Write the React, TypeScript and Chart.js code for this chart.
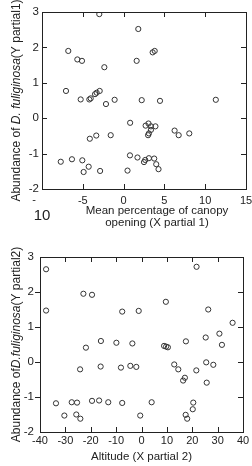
import React, { useEffect, useRef } from "react";
import { Chart, registerables } from "chart.js";
Chart.register(...registerables);

// ---- Data ----
const topX = [-2.98, 1.8, -6.78, -5.67, -5.1, -2.36, 1.6, 3.56, 3.81, -7.06, -5.26, -4.2, -4.03, -3.5, -3.3, -2.93, -2.16, -1.1, 2.22, 4.46, 11.3, 0.8, 2.7, 3.05, 3.35, 3.9, 3.35, 3.1, 3.0, 6.25, 6.75, 8.05, -4.14, -3.35, -1.58, -7.7, -6.33, -5.06, -4.28, -4.9, -2.88, 0.78, 0.48, 1.7, 2.5, 2.65, 3.1, 3.75, 4.0, 4.28];
const topY = [2.94, 2.52, 1.9, 1.66, 1.62, 1.44, 1.62, 1.86, 1.9, 0.77, 0.53, 0.53, 0.56, 0.68, 0.72, 0.77, 0.4, 0.52, 0.51, 0.49, 0.52, -0.13, -0.21, -0.15, -0.23, -0.23, -0.33, -0.43, -0.48, -0.35, -0.48, -0.43, -0.58, -0.49, -0.48, -1.23, -1.16, -1.19, -1.37, -1.52, -1.49, -1.05, -1.48, -1.11, -1.24, -1.18, -1.13, -1.14, -1.3, -1.44];

const bottomX = [-37.6, -37.6, -22.9, -19.5, -7.6, -1.1, 21.7, 9.6, 26.3, 35.9, -21.9, -16.0, -9.9, -3.6, 8.9, 9.7, 10.4, 17.5, 25.3, 30.7, 31.7, -24.2, -16.1, -8.1, -4.4, -2.05, 12.9, 14.5, 16.4, 17.1, 21.6, 25.5, 28.3, 25.7, -33.7, -27.5, -25.4, -19.5, -16.7, -13.1, -7.6, 4.0, -30.4, -25.7, -24.1, -0.5, 17.4, 18.0, 20.4, 20.2];
const bottomY = [2.65, 1.47, 1.95, 1.92, 1.44, 1.46, 2.72, 1.72, 1.5, 1.12, 0.41, 0.6, 0.55, 0.53, 0.46, 0.44, 0.42, 0.59, 0.7, 0.81, 0.49, -0.21, -0.13, -0.16, -0.11, -0.14, -0.07, -0.21, -0.53, -0.45, -0.24, -0.01, -0.08, -0.59, -1.18, -1.15, -1.16, -1.11, -1.1, -1.15, -1.17, -1.15, -1.53, -1.5, -1.62, -1.53, -1.51, -1.62, -1.16, -1.35];

const topXRange = [-10, 15];
const topXStep = 5;
const bottomXRange = [-40, 40];
const bottomXStep = 10;
const yRange = [-2, 3];
const yStep = 1;

const topXTitle = ["Mean percentage of canopy", "opening (X partial 1)"];
const bottomXTitle = ["Altitude (X partial 2)"];
const topYTitle = [
  { t: "Abundance of ", it: false },
  { t: "D. fuliginosa", it: true },
  { t: "(Y partial1)", it: false },
];
const bottomYTitle = [
  { t: "Abundance of", it: false },
  { t: "D.fuliginosa", it: true },
  { t: "(Y partial2)", it: false },
];

const FONT = "'Liberation Sans', Arial, sans-serif";
const INK = "#222";

type Opts = {
  xs: number[];
  ys: number[];
  xRange: number[];
  xStep: number;
  pad: { top: number; right: number; left: number; bottom: number };
  yWidth: number;
  xHeight: number;
  xLabelPad: number;
  yLabelPad: number;
  leftTicksOut: boolean;
  xTitle: string[];
  xTitleCenterOffset: number;
  xTitleY: number[];
  yTitle: { t: string; it: boolean }[];
  yTitleX: number;
  splitMinus?: boolean;
};

function makeConfig(o: Opts): any {
  const framePlugin = {
    id: "frame",
    afterDraw(chart: any) {
      const { ctx, chartArea } = chart;
      const { left, top, right, bottom } = chartArea;
      const xs = chart.scales.x;
      const ys = chart.scales.y;
      const L = 5;
      ctx.save();
      ctx.strokeStyle = INK;
      ctx.lineWidth = 1;
      ctx.strokeRect(Math.round(left) + 0.5, Math.round(top) + 0.5, Math.round(right - left), Math.round(bottom - top));
      ctx.beginPath();
      xs.ticks.forEach((t: any) => {
        const px = Math.round(xs.getPixelForValue(t.value)) + 0.5;
        if (px <= left + 2 || px >= right - 2) return;
        ctx.moveTo(px, top);
        ctx.lineTo(px, top + L);
        ctx.moveTo(px, bottom);
        ctx.lineTo(px, bottom - L);
      });
      ys.ticks.forEach((t: any) => {
        const py = Math.round(ys.getPixelForValue(t.value)) + 0.5;
        if (py <= top + 2 || py >= bottom - 2) return;
        if (o.leftTicksOut) {
          ctx.moveTo(left, py);
          ctx.lineTo(left - L, py);
        } else {
          ctx.moveTo(left, py);
          ctx.lineTo(left + L, py);
        }
        ctx.moveTo(right, py);
        ctx.lineTo(right - L, py);
      });
      ctx.stroke();

      // x title
      ctx.fillStyle = INK;
      ctx.textAlign = "center";
      ctx.textBaseline = "middle";
      ctx.font = `11.5px ${FONT}`;
      const cx = (left + right) / 2 + o.xTitleCenterOffset;
      o.xTitle.forEach((line, i) => ctx.fillText(line, cx, o.xTitleY[i]));

      // split "-10" label as in the reference
      if (o.splitMinus) {
        const p = xs.getPixelForValue(o.xRange[0]);
        ctx.font = `11px ${FONT}`;
        ctx.fillText("-", p - 8, bottom + 11);
        ctx.font = `15px ${FONT}`;
        ctx.fillText("10", p, bottom + 27);
      }

      // y title with italic species name
      ctx.save();
      const cy = (top + bottom) / 2;
      ctx.translate(o.yTitleX, cy);
      ctx.rotate(-Math.PI / 2);
      ctx.textAlign = "left";
      ctx.textBaseline = "middle";
      const fonts = o.yTitle.map((s) => `${s.it ? "italic " : ""}12px ${FONT}`);
      let total = 0;
      const widths = o.yTitle.map((s, i) => {
        ctx.font = fonts[i];
        const w = ctx.measureText(s.t).width;
        total += w;
        return w;
      });
      let x = -total / 2;
      o.yTitle.forEach((s, i) => {
        ctx.font = fonts[i];
        ctx.fillText(s.t, x, 0);
        x += widths[i];
      });
      ctx.restore();
      ctx.restore();
    },
  };

  return {
    type: "scatter",
    data: {
      datasets: [
        {
          data: o.xs.map((x, i) => ({ x, y: o.ys[i] })),
          pointRadius: 2.6,
          pointBorderWidth: 1,
          borderColor: "#333",
          backgroundColor: "rgba(0,0,0,0)",
          pointStyle: "circle",
        },
      ],
    },
    options: {
      responsive: false,
      animation: false,
      devicePixelRatio: 1,
      events: [],
      layout: { padding: o.pad },
      plugins: { legend: { display: false }, tooltip: { enabled: false } },
      scales: {
        x: {
          type: "linear",
          min: o.xRange[0],
          max: o.xRange[1],
          grid: { display: false, drawTicks: false },
          border: { display: false },
          ticks: {
            stepSize: o.xStep,
            color: INK,
            padding: o.xLabelPad,
            font: { family: FONT, size: 11 },
            maxRotation: 0,
            autoSkip: false,
            callback: (v: number) => (o.splitMinus && v === o.xRange[0] ? "" : String(v)),
          },
          afterFit(s: any) {
            s.height = o.xHeight;
            s.paddingLeft = 0;
            s.paddingRight = 0;
          },
        },
        y: {
          type: "linear",
          min: yRange[0],
          max: yRange[1],
          grid: { display: false, drawTicks: false },
          border: { display: false },
          ticks: {
            stepSize: yStep,
            color: INK,
            padding: o.yLabelPad,
            font: { family: FONT, size: 11.5 },
            autoSkip: false,
          },
          afterFit(s: any) {
            s.width = o.yWidth;
            s.paddingTop = 0;
            s.paddingBottom = 0;
          },
        },
      },
    },
    plugins: [framePlugin],
  };
}

function Plot({ o, top }: { o: Opts; top: number }) {
  const ref = useRef<HTMLCanvasElement>(null);
  useEffect(() => {
    const chart = new Chart(ref.current as HTMLCanvasElement, makeConfig(o));
    return () => chart.destroy();
  }, []);
  return (
    <canvas
      ref={ref}
      width={252}
      height={233}
      style={{ position: "absolute", left: 0, top, width: 252, height: 233 }}
    />
  );
}

const topOpts: Opts = {
  xs: topX,
  ys: topY,
  xRange: topXRange,
  xStep: topXStep,
  pad: { top: 12, right: 6, left: 0, bottom: 0 },
  yWidth: 42,
  xHeight: 44,
  xLabelPad: 5,
  yLabelPad: 3,
  leftTicksOut: false,
  xTitle: topXTitle,
  xTitleCenterOffset: 13,
  xTitleY: [210.5, 222.5],
  yTitle: topYTitle,
  yTitleX: 17,
  splitMinus: true,
};

const bottomOpts: Opts = {
  xs: bottomX,
  ys: bottomY,
  xRange: bottomXRange,
  xStep: bottomXStep,
  pad: { top: 24, right: 9, left: 0, bottom: 0 },
  yWidth: 40,
  xHeight: 34,
  xLabelPad: 2,
  yLabelPad: 6,
  leftTicksOut: true,
  xTitle: bottomXTitle,
  xTitleCenterOffset: 0,
  xTitleY: [224],
  yTitle: bottomYTitle,
  yTitleX: 17,
};

export default function App() {
  return (
    <div style={{ position: "fixed", left: 0, top: 0, width: 252, height: 466, background: "#fff" }}>
      <Plot o={topOpts} top={0} />
      <Plot o={bottomOpts} top={233} />
    </div>
  );
}
